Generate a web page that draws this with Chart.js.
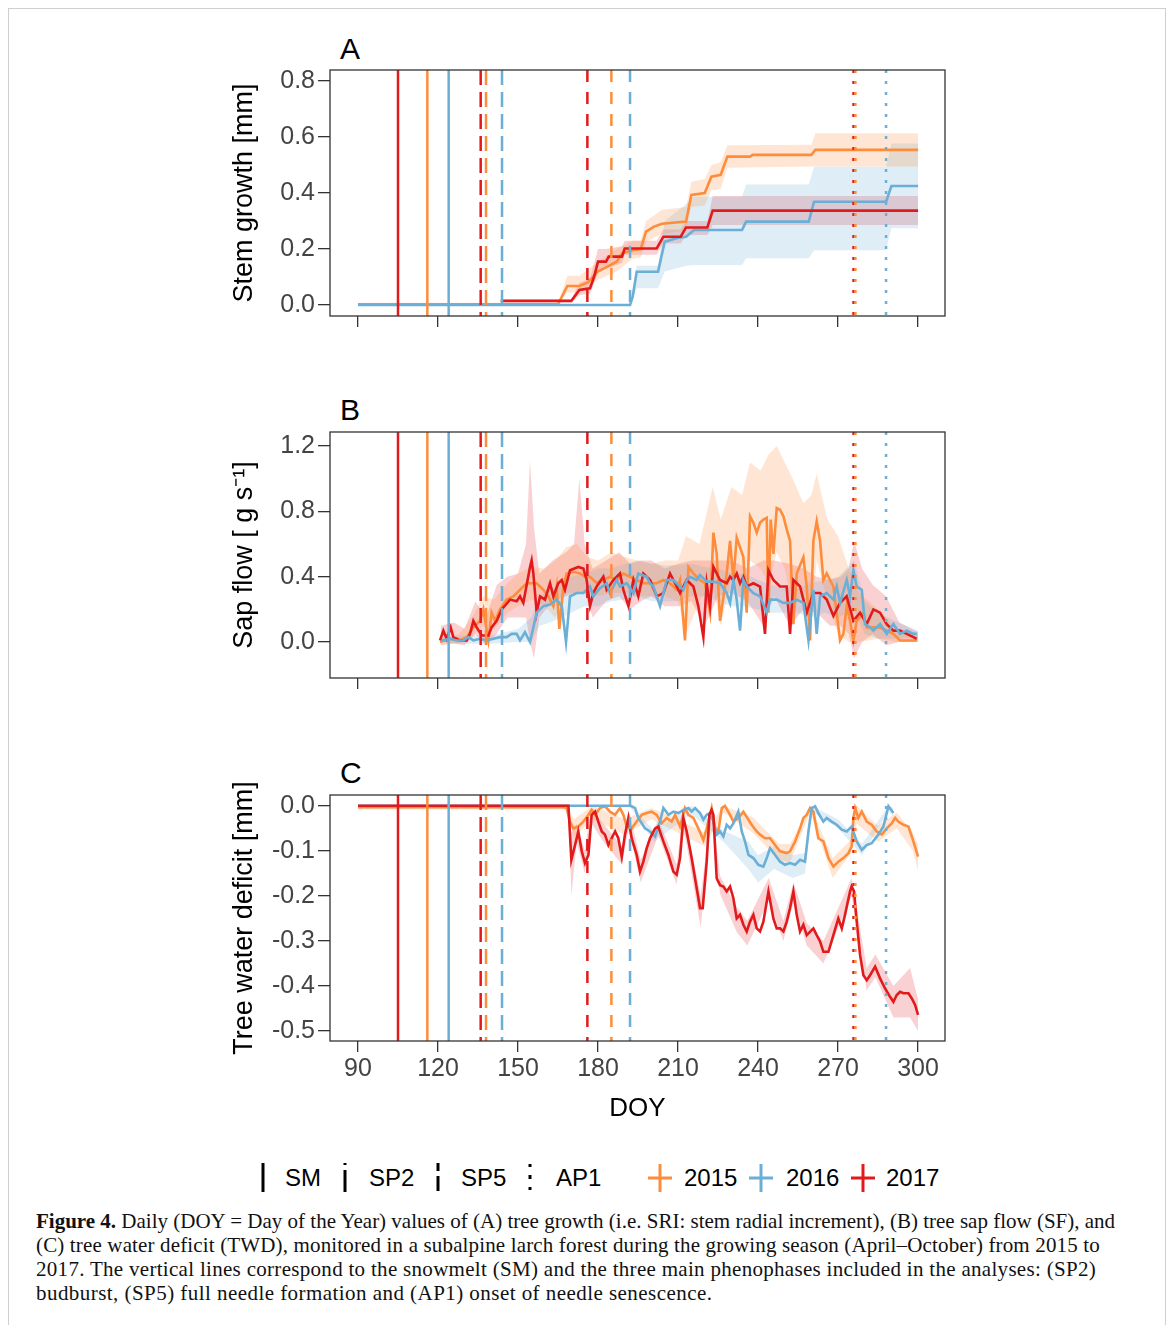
<!DOCTYPE html>
<html>
<head>
<meta charset="utf-8">
<script src="https://cdn.jsdelivr.net/npm/chart.js@4.4.1/dist/chart.umd.min.js"></script>
<style>
  body { margin: 0; background: #fff; width: 1171px; height: 1325px; position: relative; overflow: hidden;
         font-family: "Liberation Sans", Arial, sans-serif; }
  .frame { position: absolute; left: 8px; top: 8px; width: 1156px; height: 1340px; border: 1px solid #cfcfcf; }
  canvas { position: absolute; left: 200px; }
  .letter { position: absolute; left: 340px; font-size: 30px; line-height: 30px; color: #000; }
  .leg { position: absolute; top: 1166px; font-size: 24px; line-height: 24px; color: #000; white-space: nowrap; }
  .legsym { position: absolute; top: 1160px; }
  .caption { position: absolute; left: 36px; top: 1209px; font-family: "Liberation Serif", "Times New Roman", serif;
             font-size: 21px; line-height: 24px; color: #111; }
  .caption div { white-space: nowrap; }
</style>
</head>
<body>
<div class="frame"></div>

<div class="letter" style="top:34px">A</div>
<div class="letter" style="top:395px">B</div>
<div class="letter" style="top:758px">C</div>

<canvas id="panelA" width="760" height="330" style="top:20px"></canvas>
<canvas id="panelB" width="760" height="330" style="top:382px"></canvas>
<canvas id="panelC" width="760" height="385" style="top:745px"></canvas>

<!-- legend -->
<svg class="legsym" style="left:259px" width="8" height="34"><line x1="4" y1="3" x2="4" y2="32" stroke="#000" stroke-width="3"/></svg>
<div class="leg" style="left:285px">SM</div>
<svg class="legsym" style="left:341px" width="8" height="34"><line x1="4" y1="3" x2="4" y2="5" stroke="#000" stroke-width="3"/><line x1="4" y1="10" x2="4" y2="32" stroke="#000" stroke-width="3"/></svg>
<div class="leg" style="left:369px">SP2</div>
<svg class="legsym" style="left:434px" width="8" height="34"><line x1="4" y1="3" x2="4" y2="11" stroke="#000" stroke-width="3"/><line x1="4" y1="16" x2="4" y2="31" stroke="#000" stroke-width="3"/></svg>
<div class="leg" style="left:461px">SP5</div>
<svg class="legsym" style="left:526px" width="8" height="34"><line x1="4" y1="4" x2="4" y2="7" stroke="#000" stroke-width="3"/><line x1="4" y1="15" x2="4" y2="19" stroke="#000" stroke-width="3"/><line x1="4" y1="27" x2="4" y2="30" stroke="#000" stroke-width="3"/></svg>
<div class="leg" style="left:556px">AP1</div>
<svg class="legsym" style="left:647px" width="26" height="34"><line x1="1" y1="18" x2="25" y2="18" stroke="#fd8d3c" stroke-width="3"/><line x1="13" y1="4" x2="13" y2="32" stroke="#fd8d3c" stroke-width="3"/></svg>
<div class="leg" style="left:684px">2015</div>
<svg class="legsym" style="left:748px" width="26" height="34"><line x1="1" y1="18" x2="25" y2="18" stroke="#6baed6" stroke-width="3"/><line x1="13" y1="4" x2="13" y2="32" stroke="#6baed6" stroke-width="3"/></svg>
<div class="leg" style="left:786px">2016</div>
<svg class="legsym" style="left:850px" width="26" height="34"><line x1="1" y1="18" x2="25" y2="18" stroke="#e31a1c" stroke-width="3"/><line x1="13" y1="4" x2="13" y2="32" stroke="#e31a1c" stroke-width="3"/></svg>
<div class="leg" style="left:886px">2017</div>

<div class="caption">
  <div><b>Figure 4.</b> Daily (DOY = Day of the Year) values of (A) tree growth (i.e. SRI: stem radial increment), (B) tree sap flow (SF), and</div>
  <div style="letter-spacing:0.15px">(C) tree water deficit (TWD), monitored in a subalpine larch forest during the growing season (April–October) from 2015 to</div>
  <div style="letter-spacing:0.3px">2017. The vertical lines correspond to the snowmelt (SM) and the three main phenophases included in the analyses: (SP2)</div>
  <div style="letter-spacing:0.45px">budburst, (SP5) full needle formation and (AP1) onset of needle senescence.</div>
</div>

<script>
// axes
const doyTicks = [90, 120, 150, 180, 210, 240, 270, 300];
const doyRange = [79.5, 310.1];
const sriTicks = [0, 0.2, 0.4, 0.6, 0.8];
const sriRange = [-0.039, 0.839];
const sfTicks = [0, 0.4, 0.8, 1.2];
const sfRange = [-0.22, 1.286];
const twdTicks = [0, -0.1, -0.2, -0.3, -0.4, -0.5];
const twdRange = [-0.522, 0.024];

// years: 2015, 2016, 2017
const years = ['2015', '2016', '2017'];
const smDoy = [116, 124, 105];
const sp2Doy = [138, 144, 136];
const sp5Doy = [185, 192, 176];
const ap1Doy = [276.5, 288, 275.8];

// (A) stem growth [mm]: [doy, mean] and [doy, low, high]
const sri2015 = [[90,0.003],[165,0.003],[168.5,0.068],[173,0.068],[176,0.08],[180,0.12],[184,0.14],[187,0.155],[189,0.185],[193,0.196],[196,0.2],[198,0.262],[201,0.28],[204,0.29],[213,0.298],[215,0.393],[220,0.4],[222.5,0.458],[226,0.465],[228.5,0.53],[237,0.53],[238,0.536],[260,0.536],[261.5,0.554],[300,0.554]];
const sri2016 = [[90,0],[192,0],[193,0.03],[194.5,0.119],[202.5,0.119],[205,0.226],[210,0.24],[213,0.244],[216,0.268],[234,0.268],[235.5,0.298],[259,0.298],[261,0.369],[288,0.369],[290,0.425],[300,0.425]];
const sri2017 = [[143.5,0.015],[170,0.015],[173,0.054],[177,0.06],[178.5,0.1],[180,0.155],[183,0.155],[184,0.173],[189,0.173],[190,0.202],[202,0.202],[204.5,0.244],[211,0.244],[213,0.277],[221,0.277],[223,0.337],[300,0.337]];
const sriBand2015 = [[90,-0.002,0.008],[165,-0.002,0.008],[168.5,0.045,0.105],[173,0.045,0.105],[180,0.09,0.155],[187,0.12,0.2],[193,0.165,0.23],[196,0.17,0.23],[198,0.225,0.3],[204,0.255,0.34],[213,0.265,0.35],[215,0.35,0.44],[220,0.355,0.45],[222.5,0.41,0.5],[226,0.415,0.51],[228.5,0.49,0.57],[260,0.495,0.572],[261.5,0.495,0.613],[300,0.495,0.613]];
const sriBand2016 = [[192,0,0],[194.5,0.06,0.14],[202.5,0.06,0.14],[205,0.12,0.3],[213,0.14,0.36],[216,0.143,0.387],[234,0.143,0.387],[235.5,0.167,0.43],[259,0.167,0.43],[261,0.196,0.494],[288,0.196,0.494],[290,0.274,0.577],[300,0.274,0.577]];
const sriBand2017 = [[143.5,0.01,0.02],[170,0.01,0.02],[173,0.035,0.08],[177,0.04,0.095],[180,0.115,0.2],[183,0.13,0.2],[189,0.15,0.21],[190,0.18,0.23],[202,0.18,0.23],[204.5,0.22,0.27],[211,0.22,0.27],[213,0.25,0.3],[221,0.25,0.3],[223,0.286,0.389],[300,0.286,0.389]];

// (B) sap flow [g s-1]
const sf2015 = [[120.75,0],[124.5,0.02],[128.25,0.01],[130.75,0.03],[133.25,0.09],[135.75,0.13],[137,0.2],[138.9,0.01],[140.1,0.18],[141.4,0.13],[143.25,0.2],[145.75,0.26],[148.25,0.28],[150.75,0.32],[153.25,0.36],[157,0.36],[159.5,0.32],[161.4,0.28],[163.25,0.22],[164.5,0.34],[165.5,0.08],[167,0.34],[168.25,0.42],[170.75,0.43],[173.25,0.42],[175.1,0.4],[177,0.4],[179.5,0.36],[182,0.38],[184.5,0.4],[187,0.38],[189.5,0.42],[192,0.4],[194.5,0.38],[197,0.36],[199.5,0.36],[202,0.36],[204.5,0.38],[207,0.36],[209.5,0.32],[210.75,0.38],[212.6,0.01],[213.9,0.46],[215.75,0.42],[218.25,0.38],[220.1,0.36],[222,0.18],[223.25,0.67],[224.5,0.54],[225.75,0.13],[228.25,0.42],[229.5,0.62],[230.75,0.38],[232,0.64],[234.5,0.52],[235.75,0.18],[237,0.77],[238.25,0.73],[239.5,0.67],[240.75,0.73],[242,0.75],[243.25,0.76],[243.9,0.18],[244.75,0.75],[245.75,0.54],[247,0.82],[248.25,0.81],[249.5,0.77],[250.75,0.69],[252,0.62],[253.25,0.11],[254.5,0.42],[257,0.52],[258.25,0.34],[259.5,0.01],[260.75,0.62],[262,0.74],[263.25,0.62],[264.5,0.38],[265.75,0.42],[267,0.38],[268.25,0.34],[270.75,0.01],[272,0.05],[273.25,0.22],[274.5,0.13],[275.75,0.01],[277,0.13],[279.5,0.18],[280.75,0.09],[283.25,0.09],[285.75,0.09],[288.25,0.07],[290.75,0.05],[293.25,0.01],[295.75,0.01],[299.5,0.01]];
const sf2016 = [[121.4,0.01],[124.5,0.02],[127,0.01],[129.5,0.01],[131.4,0.03],[133.25,0.01],[135.75,0.02],[138.25,0.01],[140.75,0.02],[143.25,0.03],[145.75,0.03],[147.6,0.05],[149.5,0.05],[150.75,0.01],[152.6,0.06],[154.5,0],[157,0.18],[159.5,0.22],[162,0.23],[164.5,0.26],[166.4,0.22],[168,0],[169.5,0.28],[172,0.3],[174.5,0.3],[177,0.34],[178.25,0.28],[180.75,0.33],[183.25,0.36],[184.5,0.3],[187,0.38],[188.25,0.34],[190.75,0.36],[193.25,0.3],[195.1,0.42],[198.25,0.4],[199.5,0.36],[200.75,0.34],[203.25,0.22],[205.75,0.38],[208.25,0.38],[210.75,0.34],[212,0.32],[213.25,0.38],[214.5,0.4],[217,0.38],[218.25,0.41],[220.75,0.37],[223.25,0.37],[225.75,0.36],[228.25,0.3],[229.5,0.24],[230.75,0.38],[232,0.26],[233.25,0.07],[234.5,0.38],[235.75,0.34],[238.25,0.3],[240.75,0.28],[243.25,0.18],[244.5,0.26],[247,0.26],[249.5,0.24],[252,0.24],[254.5,0.26],[257,0.24],[258.9,0.01],[260.75,0.32],[262,0.05],[263.25,0.28],[265.75,0.3],[268.25,0.26],[269.5,0.34],[270.75,0.24],[273.25,0.38],[274.5,0.28],[275.75,0.44],[277,0.34],[278.9,0.32],[280.1,0.11],[282,0.09],[283.25,0.07],[285.75,0.11],[288.25,0.05],[290.75,0.11],[293.25,0.05],[295.75,0.07],[298.25,0.05],[299.5,0.05]];
const sf2017 = [[120.75,0.01],[122,0.07],[123.25,0.02],[124.75,0.09],[125.75,0.03],[128.25,0.01],[130.75,0.01],[132,0.05],[133.25,0.13],[134.5,0.09],[136.4,0.04],[138.9,0.04],[140.1,0.09],[142,0.13],[143.9,0.2],[147,0.26],[149.5,0.25],[150.75,0.28],[152,0.24],[154.5,0.46],[155.1,0.5],[155.75,0.42],[157,0.18],[158.25,0.28],[160.1,0.26],[162,0.36],[163.25,0.28],[165.1,0.36],[166.4,0.38],[167.6,0.32],[169.5,0.44],[172.6,0.46],[174.5,0.45],[175.75,0.38],[177,0.22],[178.25,0.3],[179.5,0.34],[182,0.4],[183.25,0.32],[185.75,0.38],[188.25,0.42],[189.5,0.32],[191.4,0.22],[193.25,0.38],[195.1,0.28],[197,0.42],[199.5,0.38],[202,0.28],[204.5,0.3],[207,0.42],[209.5,0.34],[210.75,0.3],[213.25,0.38],[215.75,0.34],[217.6,0.22],[219.5,0.03],[220.75,0.36],[222,0.22],[223.25,0.46],[224.5,0.42],[225.75,0.38],[228.25,0.36],[229.5,0.4],[230.75,0.38],[232,0.42],[233.25,0.36],[234.5,0.4],[235.75,0.34],[238.25,0.36],[240.75,0.34],[242.6,0.05],[243.9,0.44],[245.75,0.38],[248.25,0.34],[250.75,0.34],[252,0.05],[253.25,0.38],[255.75,0.34],[258.25,0.18],[260.75,0.3],[263.25,0.3],[265.75,0.26],[268.25,0.16],[270.75,0.24],[273.25,0.28],[275.75,0.13],[278.25,0.18],[280.75,0.11],[283.25,0.2],[285.75,0.18],[288.25,0.11],[290.75,0.07],[293.25,0.07],[295.75,0.05],[298.25,0.03],[299.5,0.02]];
const sfBand2015 = [[121,0,0.02],[128,-0.01,0.05],[133,0.04,0.16],[137,0.1,0.28],[141,0.08,0.26],[146,0.18,0.36],[150,0.22,0.42],[155,0.26,0.46],[160,0.22,0.45],[164,0.15,0.5],[168,0.3,0.58],[172,0.3,0.6],[176,0.3,0.52],[180,0.28,0.5],[185,0.3,0.55],[190,0.3,0.52],[195,0.28,0.5],[200,0.28,0.48],[205,0.28,0.5],[210,0.25,0.5],[213,0.05,0.65],[218,0.25,0.6],[223,0.35,0.95],[226,0.1,0.75],[230,0.4,0.95],[234,0.25,0.9],[237,0.5,1.1],[241,0.45,1.05],[244,0.35,1.15],[247,0.55,1.2],[250,0.45,1.1],[253,0.2,1.0],[257,0.3,0.85],[260,0.15,0.9],[262,0.5,1.03],[266,0.25,0.75],[270,0.05,0.65],[274,0,0.45],[278,0,0.3],[285,0.02,0.2],[292,0,0.08],[300,0,0.04]];
const sfBand2016 = [[121,0,0.02],[130,-0.01,0.04],[140,-0.01,0.04],[150,0,0.08],[155,0,0.15],[158,0.1,0.28],[162,0.12,0.32],[166,0.15,0.35],[170,0.18,0.4],[175,0.22,0.42],[180,0.22,0.45],[185,0.25,0.45],[190,0.26,0.48],[195,0.28,0.5],[200,0.25,0.48],[205,0.25,0.47],[210,0.25,0.47],[215,0.28,0.48],[220,0.28,0.46],[225,0.25,0.45],[230,0.22,0.42],[235,0.22,0.42],[240,0.2,0.38],[245,0.18,0.35],[250,0.18,0.33],[255,0.18,0.33],[260,0.15,0.36],[265,0.18,0.38],[270,0.15,0.4],[276,0.2,0.5],[280,0.05,0.25],[285,0.02,0.18],[290,0.02,0.14],[300,0.03,0.07]];
const sfBand2017 = [[121,-0.02,0.1],[126,-0.01,0.12],[130,-0.02,0.08],[134,0.05,0.25],[138,-0.02,0.15],[142,0.05,0.35],[146,0.15,0.4],[150,0.15,0.42],[153,0.15,0.6],[154.5,0,1.11],[156,-0.1,0.7],[158,0.15,0.42],[163,0.25,0.5],[168,0.28,0.55],[171,0.3,0.6],[173,0.3,1.0],[175,0.3,0.6],[178,0.15,0.45],[183,0.25,0.5],[188,0.28,0.55],[192,0.2,0.48],[196,0.25,0.5],[200,0.28,0.5],[205,0.22,0.45],[210,0.22,0.48],[215,0.25,0.5],[220,0.1,0.5],[225,0.28,0.5],[230,0.3,0.5],[236,0.25,0.45],[242,0.1,0.5],[246,0.28,0.5],[252,0.1,0.48],[257,0.2,0.45],[262,0.18,0.4],[267,0.1,0.38],[271,0.1,0.4],[274,0.05,0.45],[276,-0.1,0.62],[279,0,0.45],[283,0.05,0.35],[288,-0.02,0.28],[293,0,0.12],[300,0,0.06]];

// (C) tree water deficit [mm]
const twd2015 = [[90,-0.003],[167,-0.003],[168.25,-0.005],[169.5,-0.035],[170.75,-0.05],[172.6,-0.046],[174.5,-0.035],[176.4,-0.02],[177.6,-0.009],[178.9,-0.02],[180.75,-0.005],[182.6,-0.001],[184.5,-0.013],[186.4,-0.02],[188.25,-0.005],[189.5,-0.02],[190.75,-0.046],[192.6,-0.05],[194.5,-0.035],[196.4,-0.02],[198.25,-0.016],[200.1,-0.013],[202,-0.02],[203.9,-0.039],[205.75,-0.027],[207.6,-0.035],[208.9,-0.02],[210.75,-0.046],[212.6,-0.005],[213.9,-0.02],[215.75,-0.027],[217.6,-0.05],[219.5,-0.076],[220.75,-0.05],[222.6,-0.005],[223.9,-0.05],[225.1,-0.057],[226.4,-0.005],[227.6,0],[229.5,-0.02],[230.75,-0.035],[232.6,-0.027],[234.5,-0.013],[236.4,-0.031],[237.6,-0.042],[239.5,-0.057],[240.75,-0.064],[242.6,-0.072],[244.5,-0.072],[246.4,-0.087],[248.25,-0.101],[250.75,-0.105],[252,-0.101],[253.9,-0.079],[255.75,-0.05],[257,-0.027],[258.25,-0.02],[259.5,-0.005],[260.75,-0.013],[262.6,-0.072],[264.5,-0.079],[266.4,-0.116],[268.25,-0.135],[270.1,-0.124],[272,-0.116],[273.9,-0.105],[275.1,-0.09],[275.75,-0.027],[276.4,-0.005],[277.6,-0.027],[278.9,-0.013],[280.75,-0.035],[282.6,-0.042],[284.5,-0.057],[286.4,-0.064],[288.25,-0.05],[290.1,-0.039],[291.4,-0.027],[292.6,-0.035],[294.5,-0.042],[296.4,-0.046],[298.25,-0.079],[300,-0.113]];
const twd2016 = [[90,0],[192,0],[192.6,-0.001],[193.9,-0.005],[195.1,-0.027],[197.6,-0.05],[199.5,-0.057],[201.4,-0.068],[203.25,-0.035],[204.5,-0.005],[206.4,-0.02],[208.25,-0.013],[210.1,-0.016],[212,-0.009],[213.9,-0.005],[215.1,-0.013],[216.4,-0.005],[218.25,-0.016],[219.5,-0.031],[220.75,-0.02],[222,-0.016],[223.25,-0.035],[224.5,-0.064],[225.75,-0.057],[227,-0.068],[228.25,-0.042],[229.5,-0.05],[230.75,-0.039],[232.6,-0.013],[233.9,-0.057],[235.1,-0.079],[236.4,-0.109],[238.25,-0.116],[240.1,-0.131],[242,-0.135],[243.25,-0.116],[244.5,-0.094],[246.4,-0.109],[248.25,-0.124],[250.1,-0.131],[252,-0.127],[253.9,-0.131],[255.75,-0.12],[257.6,-0.124],[258.9,-0.057],[260.1,-0.005],[261.4,-0.001],[262.6,-0.016],[264.5,-0.035],[265.75,-0.027],[267.6,-0.035],[269.5,-0.042],[271.4,-0.053],[273.25,-0.057],[275.1,-0.046],[277,-0.079],[278.9,-0.098],[280.75,-0.087],[282.6,-0.083],[285.1,-0.064],[287,-0.046],[288.9,-0.001],[290.75,-0.016]];
const twd2017 = [[90,0],[168.9,0],[170,-0.12],[171.4,-0.087],[172.6,-0.057],[173.9,-0.101],[175.1,-0.127],[176.4,-0.109],[177.6,-0.02],[178.9,-0.013],[180.1,-0.035],[181.4,-0.057],[182.6,-0.064],[183.9,-0.087],[185.1,-0.072],[186.4,-0.057],[187.6,-0.072],[188.9,-0.113],[190.1,-0.064],[191.4,-0.027],[192.6,-0.072],[194.5,-0.109],[195.75,-0.146],[197,-0.124],[198.25,-0.094],[199.5,-0.072],[201.4,-0.05],[202.6,-0.046],[204.5,-0.079],[206.4,-0.109],[208.25,-0.146],[209.5,-0.153],[210.75,-0.116],[212,-0.027],[213.25,-0.057],[215.1,-0.116],[217,-0.183],[218.25,-0.227],[219.25,-0.227],[220.75,-0.124],[221.75,-0.02],[222.6,-0.009],[223.25,-0.02],[224.5,-0.161],[225.75,-0.176],[227,-0.179],[228.25,-0.19],[229.5,-0.179],[230.75,-0.205],[232,-0.25],[233.25,-0.242],[234.5,-0.264],[235.75,-0.279],[237,-0.257],[238.25,-0.242],[239.5,-0.272],[240.75,-0.279],[242,-0.257],[243.9,-0.19],[245.75,-0.25],[247,-0.272],[248.25,-0.272],[249.5,-0.279],[250.75,-0.257],[252,-0.227],[253.25,-0.19],[254.5,-0.242],[255.75,-0.279],[257,-0.264],[258.25,-0.287],[260.75,-0.272],[262,-0.287],[263.25,-0.301],[264.5,-0.324],[266.4,-0.324],[268.25,-0.287],[270.1,-0.25],[271.4,-0.272],[272.6,-0.242],[274.5,-0.19],[275.1,-0.179],[276,-0.19],[277,-0.257],[278.25,-0.331],[279.5,-0.376],[280.75,-0.387],[282,-0.376],[283.9,-0.357],[285.75,-0.383],[287.6,-0.405],[289.5,-0.424],[290.75,-0.435],[292,-0.42],[293.25,-0.413],[294.5,-0.416],[296.4,-0.416],[297.6,-0.427],[298.9,-0.442],[300,-0.464]];
const twdBand2015 = [[90,-0.008,0],[168,-0.008,0],[171,-0.07,-0.03],[178,-0.03,0],[190,-0.065,-0.03],[200,-0.03,-0.005],[210,-0.06,-0.03],[220,-0.09,-0.06],[227,-0.015,0],[238,-0.06,-0.025],[248,-0.12,-0.085],[252,-0.125,-0.085],[259.5,-0.015,0],[268,-0.16,-0.115],[275,-0.105,-0.075],[277,-0.04,0],[285,-0.08,-0.045],[292,-0.05,-0.015],[298,-0.1,-0.06],[300,-0.145,-0.085]];
const twdBand2016 = [[192,-0.002,0],[201,-0.08,-0.055],[215,-0.018,0],[227,-0.08,-0.055],[236.4,-0.14,-0.08],[240,-0.17,-0.11],[246,-0.14,-0.09],[253,-0.16,-0.11],[257.6,-0.15,-0.105],[260,-0.012,0],[270,-0.05,-0.03],[279,-0.11,-0.085],[289,-0.01,0],[290.75,-0.025,-0.005]];
const twdBand2017 = [[169,-0.005,0],[170,-0.2,-0.06],[172,-0.08,-0.04],[175,-0.15,-0.1],[177.6,-0.04,-0.005],[182,-0.08,-0.04],[189,-0.13,-0.09],[191.4,-0.05,-0.01],[196,-0.17,-0.12],[202.6,-0.065,-0.03],[209.5,-0.175,-0.13],[212,-0.045,-0.01],[218.5,-0.27,-0.2],[222.6,-0.02,0],[225.75,-0.195,-0.155],[232,-0.28,-0.225],[236,-0.31,-0.255],[244,-0.21,-0.16],[249.5,-0.3,-0.255],[253.25,-0.215,-0.17],[258.25,-0.31,-0.26],[264.5,-0.35,-0.3],[275.1,-0.2,-0.16],[280.75,-0.41,-0.36],[284,-0.38,-0.33],[290.75,-0.47,-0.4],[297,-0.47,-0.36],[300,-0.5,-0.43]];

const yearColors = ['#fd8d3c', '#6baed6', '#e31a1c'];
const yearFills = ['rgba(253,141,60,0.22)', 'rgba(107,174,214,0.22)', 'rgba(227,26,28,0.2)'];
const FONT = '"Liberation Sans", Arial, sans-serif';
Chart.defaults.font.family = FONT;

const boxPlugin = {
  id: 'box',
  afterDatasetsDraw(chart) {
    const { ctx, chartArea: a } = chart;
    ctx.save();
    ctx.strokeStyle = '#333';
    ctx.lineWidth = 1.3;
    ctx.strokeRect(a.left, a.top, a.right - a.left, a.bottom - a.top);
    ctx.restore();
  }
};

const toXY = arr => arr.map(p => ({ x: p[0], y: p[1] }));

function phaseLines(range) {
  const phases = [[smDoy, []], [sp2Doy, [15, 7]], [sp5Doy, [12, 10]], [ap1Doy, [3, 8]]];
  const out = [];
  phases.forEach(([doys, dash]) => {
    doys.forEach((d, i) => out.push({
      data: [{ x: d, y: range[1] }, { x: d, y: range[0] }],
      borderColor: yearColors[i], borderWidth: 2.5, borderDash: dash,
      pointRadius: 0, fill: false, order: 0
    }));
  });
  return out;
}

function seriesSets(means, bands, orders) {
  const out = [];
  bands.forEach((b, i) => {
    out.push({ data: b.map(p => ({ x: p[0], y: p[1] })), borderColor: 'transparent', borderWidth: 0,
               pointRadius: 0, fill: false, order: 10 });
    out.push({ data: b.map(p => ({ x: p[0], y: p[2] })), borderColor: 'transparent', borderWidth: 0,
               pointRadius: 0, fill: '-1', backgroundColor: yearFills[i], order: 10 });
  });
  means.forEach((m, i) => out.push({
    data: toXY(m), borderColor: yearColors[i], borderWidth: 2.6, pointRadius: 0, fill: false, order: orders[i]
  }));
  return out;
}

function makePanel(id, yRange, yTicks, yTitle, datasets, showX) {
  const xHeight = document.getElementById(id).height - 296;
  new Chart(document.getElementById(id), {
    type: 'line',
    data: { datasets },
    plugins: [boxPlugin],
    options: {
      responsive: false,
      animation: false,
      events: [],
      layout: { padding: { top: 50, right: 15, left: 0, bottom: 0 } },
      plugins: { legend: { display: false }, tooltip: { enabled: false } },
      elements: { line: { tension: 0 } },
      scales: {
        x: {
          type: 'linear', min: doyRange[0], max: doyRange[1],
          afterBuildTicks: s => { s.ticks = doyTicks.map(v => ({ value: v })); },
          afterFit: s => { s.height = xHeight; },
          grid: { drawOnChartArea: false, tickLength: 11, color: '#333', lineWidth: 1.3 },
          border: { display: false },
          ticks: { display: showX, autoSkip: false, maxRotation: 0, padding: 2, color: '#444',
                   font: { size: 25 }, callback: v => String(v) },
          title: { display: showX, text: 'DOY', color: '#000', font: { size: 26 }, padding: { top: 0, bottom: 6 } }
        },
        y: {
          type: 'linear', min: yRange[0], max: yRange[1],
          afterBuildTicks: s => { s.ticks = yTicks.map(v => ({ value: v })); },
          afterFit: s => { s.width = 130; },
          grid: { drawOnChartArea: false, tickLength: 12, color: '#333', lineWidth: 1.3 },
          border: { display: false },
          ticks: { autoSkip: false, padding: 3, color: '#444', font: { size: 25 }, callback: v => v.toFixed(1) },
          title: { display: true, text: yTitle, color: '#000', font: { size: 27 }, padding: { top: 28, bottom: 0 } }
        }
      }
    }
  });
}

makePanel('panelA', sriRange, sriTicks, 'Stem growth [mm]',
  phaseLines(sriRange).concat(seriesSets([sri2015, sri2016, sri2017], [sriBand2015, sriBand2016, sriBand2017], [3, 2, 1])), false);
makePanel('panelB', sfRange, sfTicks, 'Sap flow [ g s\u207B\u00B9]',
  phaseLines(sfRange).concat(seriesSets([sf2015, sf2016, sf2017], [sfBand2015, sfBand2016, sfBand2017], [3, 1, 2])), false);
makePanel('panelC', twdRange, twdTicks, 'Tree water deficit [mm]',
  phaseLines(twdRange).concat(seriesSets([twd2015, twd2016, twd2017], [twdBand2015, twdBand2016, twdBand2017], [3, 2, 1])), true);
</script>
</body>
</html>
